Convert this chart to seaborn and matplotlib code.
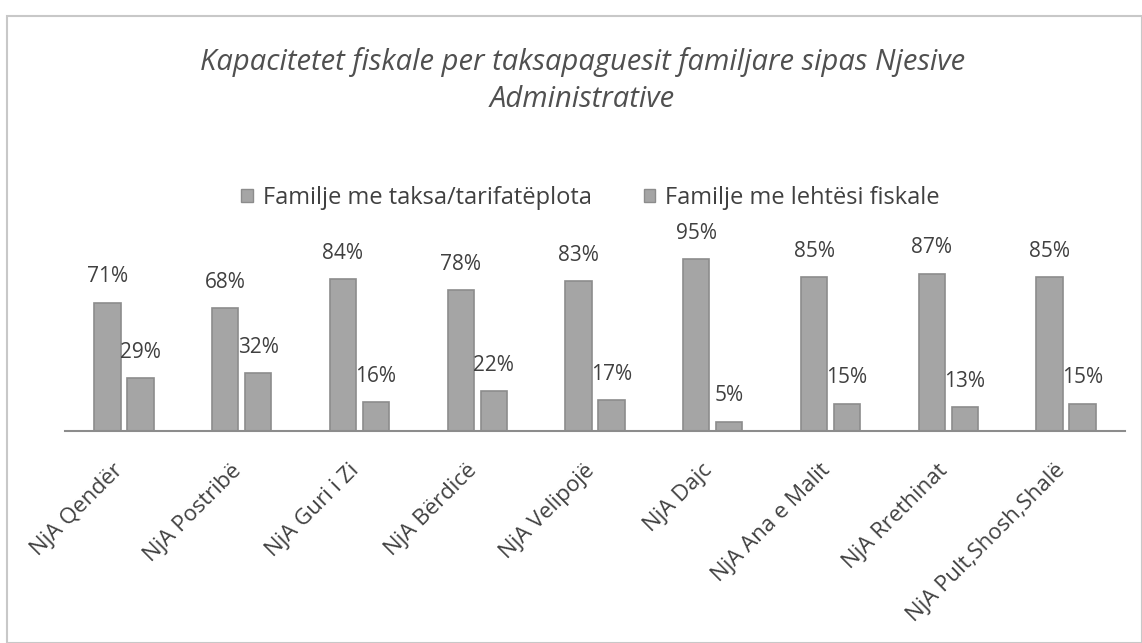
import matplotlib
matplotlib.use("Agg")
import matplotlib.pyplot as plt
import matplotlib.transforms as mtransforms
import seaborn as sns
import pandas as pd
from matplotlib.patches import Rectangle

categories = ["NjA Qendër", "NjA Postribë", "NjA Guri i Zi", "NjA Bërdicë", "NjA Velipojë",
              "NjA Dajc", "NjA Ana e Malit", "NjA Rrethinat", "NjA Pult,Shosh,Shalë"]
series_names = ["Familje me taksa/tarifatëplota", "Familje me lehtësi fiskale"]
taksa_plota = [71, 68, 84, 78, 83, 95, 85, 87, 85]
lehtesi = [29, 32, 16, 22, 17, 5, 15, 13, 15]

df = pd.DataFrame({
    "cat": categories * 2,
    "series": [series_names[0]] * len(categories) + [series_names[1]] * len(categories),
    "value": taksa_plota + lehtesi,
})

sns.set_theme(style="white")
plt.rcParams["font.family"] = ["Open Sans", "DejaVu Sans"]

fig = plt.figure(figsize=(11.42, 6.43), dpi=100)
ax = fig.add_axes([0.057, 0.330, 0.928, 0.281])

sns.barplot(data=df, x="cat", y="value", hue="series", order=categories,
            hue_order=series_names, palette=["#a5a5a5", "#a5a5a5"],
            width=0.56, gap=0.2, edgecolor="#8c8c8c", linewidth=1.2,
            ax=ax, legend=False)

for cont in ax.containers:
    ax.bar_label(cont, labels=[f"{int(v)}%" for v in cont.datavalues],
                 padding=11, fontsize=15, color="#404040")

ax.set_ylim(0, 100)
ax.set_xlim(-0.5, 8.5)
ax.set_xlabel("")
ax.set_ylabel("")
ax.set_yticks([])
for s in ["top", "right", "left"]:
    ax.spines[s].set_visible(False)
ax.spines["bottom"].set_color("#8c8c8c")
ax.spines["bottom"].set_linewidth(1.5)
ax.tick_params(axis="x", length=0, pad=10)
ax.set_xticks(range(len(categories)))
ax.set_xticklabels(categories, rotation=45, ha="right", rotation_mode="anchor",
                   fontsize=16, color="#404040")
offset = mtransforms.ScaledTranslation(-8 / 72, -11 / 72, fig.dpi_scale_trans)
for lbl in ax.get_xticklabels():
    lbl.set_transform(lbl.get_transform() + offset)

# legend
handles = [Rectangle((0, 0), 1, 1, facecolor="#a5a5a5", edgecolor="#8c8c8c") for _ in series_names]
fig.legend(handles, series_names, loc="center", bbox_to_anchor=(0.517, 0.692), ncol=2,
           frameon=False, fontsize=17, handlelength=0.5, handleheight=0.5,
           handletextpad=0.4, columnspacing=2.2, labelcolor="#404040")

fig.text(0.51, 0.875, "Kapacitetet fiskale per taksapaguesit familjare sipas Njesive\nAdministrative",
         ha="center", va="center", fontsize=21, style="italic", color="#505050",
         linespacing=1.35)

fig.patches.append(Rectangle((0.006, 0.0), 0.994, 0.975, transform=fig.transFigure,
                             fill=False, edgecolor="#c8c8c8", linewidth=1.5))

fig.savefig("out.png", dpi=100, facecolor="white")
